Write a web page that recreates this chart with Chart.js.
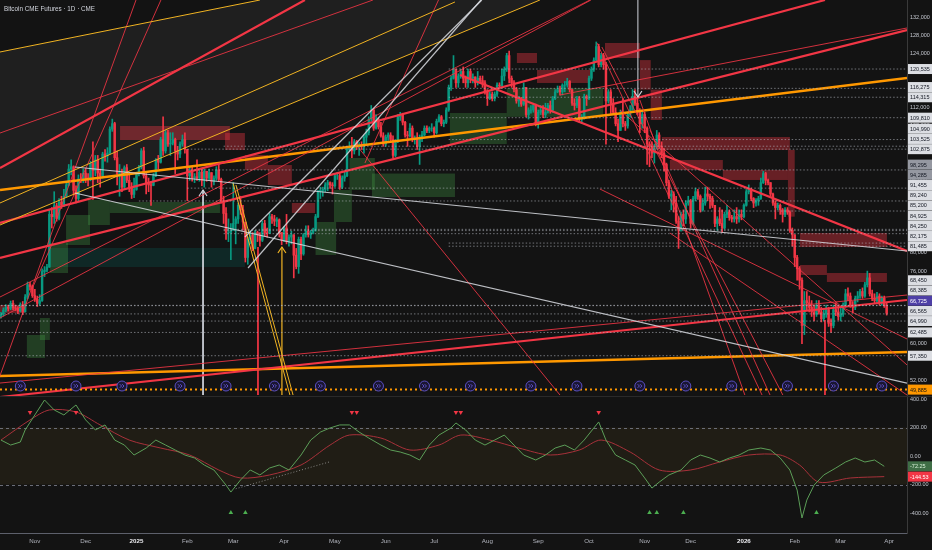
<!DOCTYPE html>
<html>
<head>
<meta charset="utf-8">
<script src="https://cdn.jsdelivr.net/npm/chart.js@4.4.1/dist/chart.umd.min.js"></script>
<style>
    body { margin: 0; background: #131313; width: 932px; height: 550px; overflow: hidden; position: relative; }
    .pane { position: absolute; left: 0; width: 932px; }
    #title { position: absolute; left: 4px; top: 5px; color: #d1d4dc; font: 6.3px 'Liberation Sans', sans-serif; }
</style>
</head>
<body>
<div class="pane" style="top:0;height:396px"><canvas id="priceChart"></canvas></div>
<div class="pane" style="top:396px;height:154px"><canvas id="oscChart"></canvas></div>
<div id="title">Bitcoin CME Futures · 1D · CME</div>
<script>
// month ticks (bar index of first session)
const monthLabels = ['Nov', 'Dec', '2025', 'Feb', 'Mar', 'Apr', 'May', 'Jun', 'Jul', 'Aug', 'Sep', 'Oct', 'Nov', 'Dec', '2026', 'Feb', 'Mar', 'Apr'];
const monthBars = [14, 35, 56, 77, 96, 117, 138, 159, 179, 201, 222, 243, 266, 285, 307, 328, 347, 367];
const priceTicks = [52000, 56000, 60000, 64000, 68000, 72000, 76000, 80000, 84000, 88000, 92000, 96000, 100000, 104000, 108000, 112000, 116000, 120000, 124000, 128000, 132000];
const oscTicks = [400, 200, 0, -200, -400];

// daily candles, thousands USD
const firstOpen = 66.0;
const closes = [
    66.5, 67.4, 68.0, 67.8, 68.9, 67.9, 67.8, 67.2, 68.6, 67.0, 70.3, 73.0, 72.6, 70.6,
    69.8, 68.9, 69.5, 75.9, 76.2, 76.9, 88.5, 88.0, 90.4, 87.6, 91.2, 90.6, 92.5, 95.0, 98.5, 99.0, 93.8, 92.0, 96.3, 96.0, 97.6,
    96.5, 96.3, 99.7, 98.2, 100.5, 97.6, 97.0, 101.8, 101.4, 102.0, 107.3, 108.5, 101.0, 97.5, 97.8, 94.5, 98.8, 96.0, 94.4, 92.9, 94.0,
    97.5, 98.9, 102.5, 97.0, 95.5, 95.0, 94.9, 97.0, 100.5, 100.0, 105.0, 102.5, 106.5, 104.0, 104.2, 105.0, 102.5, 101.8, 104.0, 105.0, 102.8,
    97.0, 98.0, 96.5, 96.8, 96.5, 97.8, 96.0, 98.0, 96.5, 97.7, 95.8, 96.5, 98.3, 96.2, 91.5, 88.7, 84.5, 84.5, 85.0,
    86.5, 87.5, 90.5, 89.5, 86.8, 79.0, 83.0, 84.0, 81.0, 84.5, 84.0, 82.8, 86.5, 84.5, 84.3, 88.0, 87.5, 87.0, 87.3, 84.5, 82.8,
    85.5, 82.5, 83.5, 84.0, 79.5, 77.0, 83.0, 79.8, 84.0, 84.8, 84.0, 84.5, 85.0, 88.0, 93.5, 93.8, 94.0, 95.0, 95.5, 95.0, 94.8,
    97.0, 97.0, 94.5, 96.5, 97.0, 103.0, 103.5, 102.5, 104.5, 103.5, 103.8, 103.5, 105.5, 106.5, 109.5, 111.5, 107.5, 109.0, 107.8, 105.8, 104.0,
    105.5, 106.0, 105.0, 101.5, 104.5, 110.0, 110.5, 108.8, 106.0, 105.8, 107.5, 105.0, 105.0, 103.5, 105.5, 106.0, 107.5, 107.0, 107.5, 107.5,
    106.5, 109.0, 110.0, 108.5, 108.8, 111.5, 116.5, 118.5, 120.5, 117.5, 119.0, 120.0, 118.5, 117.5, 120.0, 118.5, 118.8, 117.5, 118.5, 118.0, 117.5, 115.5,
    114.0, 115.0, 114.0, 115.0, 117.0, 116.8, 119.0, 120.5, 123.5, 118.5, 117.5, 116.0, 113.5, 114.0, 112.8, 116.5, 110.5, 111.5, 111.5, 112.5, 108.5,
    111.0, 111.5, 110.5, 111.0, 112.5, 111.5, 114.0, 115.5, 116.0, 115.5, 117.0, 117.0, 117.8, 116.0, 113.0, 112.5, 114.0, 109.5, 110.0, 114.5, 114.0,
    118.5, 120.5, 122.5, 125.5, 121.5, 123.5, 121.5, 113.5, 115.5, 113.0, 111.0, 108.5, 107.0, 110.5, 108.5, 108.0, 110.5, 111.5, 114.5, 113.0, 111.0, 108.5, 110.5,
    107.5, 104.0, 103.5, 102.0, 103.5, 106.0, 103.5, 102.0, 99.5, 95.5, 92.5, 93.0, 91.0, 87.0, 85.0, 88.5, 87.5, 91.0, 91.5,
    86.5, 92.0, 93.5, 92.5, 89.5, 91.0, 93.0, 92.5, 92.0, 90.5, 86.5, 87.5, 86.5, 85.5, 88.5, 89.0, 87.8, 87.5, 88.0, 87.5, 88.5, 88.0,
    90.5, 93.5, 94.0, 92.0, 91.0, 91.5, 92.0, 95.5, 97.5, 96.0, 95.5, 93.0, 91.0, 90.0, 90.5, 89.5, 88.5, 89.5, 89.0, 85.0, 84.0,
    79.0, 76.5, 74.0, 64.0, 69.5, 69.0, 68.0, 67.0, 66.5, 68.5, 67.0, 65.5, 66.5, 67.5, 64.5, 64.0, 67.5, 67.0, 66.0,
    66.5, 68.5, 71.0, 70.5, 68.5, 68.0, 70.0, 70.5, 71.5, 70.5, 73.0, 74.5, 71.0, 70.0, 69.5, 70.5, 69.0, 70.0, 68.5, 66.725
];
const highs = [
    66.9, 67.9, 68.6, 68.5, 69.4, 69.5, 68.5, 68.2, 69.0, 69.3, 70.8, 73.6, 73.5, 72.9,
    72.0, 70.5, 70.8, 76.5, 77.0, 77.5, 89.5, 90.0, 93.5, 91.0, 92.0, 92.5, 94.0, 95.8, 99.5, 100.5, 99.2, 94.8, 97.2, 97.5, 98.5,
    98.5, 97.5, 100.2, 104.5, 101.5, 101.5, 98.5, 102.2, 102.8, 103.2, 107.8, 109.5, 108.8, 102.5, 99.5, 98.5, 99.2, 99.5, 97.5, 95.5, 96.5,
    97.8, 99.3, 103.0, 103.3, 97.5, 96.5, 95.8, 97.5, 100.8, 101.5, 105.5, 110.0, 107.0, 107.0, 106.5, 106.5, 105.3, 103.5, 104.5, 106.0, 106.5,
    102.5, 99.0, 99.0, 97.5, 100.5, 98.5, 98.5, 98.5, 97.8, 98.5, 97.5, 97.0, 99.0, 99.5, 96.5, 92.5, 90.0, 87.5, 86.5,
    95.5, 88.0, 91.0, 92.5, 90.5, 86.0, 83.5, 84.8, 84.5, 85.0, 84.8, 84.5, 87.0, 87.2, 85.5, 88.7, 88.5, 88.3, 87.8, 87.5, 84.5,
    85.8, 88.5, 84.0, 84.8, 81.0, 81.0, 83.5, 83.5, 84.3, 86.0, 86.0, 85.0, 85.5, 88.5, 93.8, 94.5, 94.5, 95.5, 96.0, 95.7, 95.5,
    97.5, 97.8, 97.5, 97.0, 97.8, 103.5, 104.5, 105.5, 105.0, 104.8, 104.3, 104.5, 106.0, 107.3, 110.0, 112.5, 111.8, 110.5, 109.8, 108.8, 106.5,
    106.0, 106.5, 106.5, 105.8, 105.0, 110.5, 111.0, 110.8, 109.0, 106.8, 108.5, 108.0, 105.8, 106.5, 106.0, 106.8, 108.0, 108.0, 107.8, 108.5,
    107.8, 109.5, 110.5, 110.3, 109.3, 112.0, 117.0, 119.0, 123.5, 120.5, 119.5, 120.5, 121.0, 119.0, 120.5, 120.5, 119.5, 118.8, 120.0, 119.0, 119.0, 118.0,
    116.0, 115.5, 115.5, 115.5, 117.5, 117.5, 120.5, 121.0, 124.0, 124.5, 119.0, 118.0, 116.5, 114.5, 114.3, 117.5, 116.0, 112.0, 112.5, 113.0, 112.8,
    111.5, 112.5, 112.5, 113.0, 113.0, 113.5, 114.5, 116.0, 116.8, 116.8, 117.3, 117.8, 118.5, 118.0, 116.0, 114.0, 114.5, 114.5, 110.5, 115.0, 114.8,
    119.0, 121.0, 123.0, 126.5, 126.0, 124.0, 124.0, 122.0, 116.0, 116.0, 114.0, 112.0, 109.5, 111.5, 114.0, 109.0, 111.0, 112.5, 116.0, 116.0, 114.0, 111.8, 111.5,
    111.0, 107.8, 104.5, 104.5, 104.0, 107.0, 106.5, 104.5, 103.0, 99.8, 96.0, 93.8, 93.5, 92.5, 88.0, 89.0, 89.5, 91.5, 92.5,
    91.8, 92.5, 94.3, 94.0, 92.8, 92.0, 94.5, 94.5, 93.0, 92.5, 90.5, 88.0, 90.0, 89.5, 89.0, 90.5, 89.5, 88.3, 89.5, 90.0, 89.5, 89.5,
    90.8, 94.0, 95.0, 94.3, 92.2, 92.0, 92.5, 96.5, 98.0, 97.8, 96.3, 95.5, 93.2, 91.5, 91.0, 90.8, 89.8, 90.0, 90.0, 89.3, 85.5,
    84.0, 79.5, 77.0, 74.5, 71.5, 71.5, 70.5, 69.5, 68.5, 69.5, 69.5, 68.0, 67.8, 68.5, 68.0, 65.5, 68.5, 69.0, 68.3,
    67.8, 69.0, 72.0, 72.3, 71.2, 69.3, 70.5, 71.5, 72.0, 72.3, 73.5, 76.0, 75.5, 71.8, 71.0, 71.3, 71.0, 70.5, 70.5, 69.0
];
const lows = [
    65.6, 66.1, 67.0, 67.2, 67.5, 67.5, 67.3, 66.6, 67.0, 66.4, 67.0, 69.9, 71.8, 70.2,
    69.3, 68.2, 68.5, 69.3, 74.8, 75.8, 76.8, 85.5, 86.5, 87.0, 87.3, 89.8, 90.2, 92.3, 94.8, 97.2, 92.8, 91.0, 91.5, 95.5, 95.5,
    95.5, 94.8, 95.9, 91.8, 97.0, 95.5, 94.5, 96.5, 100.2, 100.0, 101.8, 106.8, 100.5, 95.0, 92.5, 93.5, 94.2, 95.5, 93.5, 92.0, 92.2,
    93.8, 97.0, 98.5, 96.5, 93.0, 93.5, 90.5, 94.8, 96.8, 98.5, 99.8, 101.5, 102.0, 103.5, 101.5, 103.8, 97.5, 100.5, 101.0, 103.5, 102.0,
    91.5, 96.0, 95.8, 95.5, 96.0, 95.8, 94.8, 94.5, 95.8, 96.0, 94.5, 95.0, 96.0, 95.8, 91.0, 86.5, 83.0, 82.5, 78.5,
    85.8, 82.0, 86.5, 88.5, 85.0, 78.0, 77.5, 82.0, 80.5, 80.9, 82.5, 81.5, 82.5, 83.7, 83.5, 85.0, 86.5, 86.0, 85.8, 83.5, 81.8,
    82.5, 82.0, 81.5, 82.0, 74.5, 76.5, 75.5, 78.5, 79.5, 83.5, 83.5, 83.2, 84.2, 84.8, 87.8, 92.0, 92.5, 93.5, 93.7, 94.2, 93.0,
    94.5, 96.2, 94.0, 94.2, 95.8, 96.8, 102.5, 101.0, 101.8, 102.8, 101.5, 102.8, 102.0, 104.0, 106.0, 109.0, 107.0, 107.3, 107.3, 105.5, 103.5,
    103.5, 104.8, 104.5, 101.0, 101.2, 104.3, 109.2, 108.2, 105.5, 103.5, 105.5, 104.5, 104.0, 102.8, 99.5, 104.5, 105.8, 106.5, 106.5, 106.8,
    105.5, 106.2, 108.8, 108.0, 107.8, 108.5, 111.2, 115.8, 118.3, 116.5, 116.5, 118.5, 117.5, 116.5, 116.5, 117.5, 117.5, 116.5, 117.0, 117.5, 116.5, 115.0,
    112.5, 113.8, 113.5, 113.5, 114.5, 116.3, 116.8, 118.0, 120.0, 117.5, 116.5, 115.5, 113.0, 112.3, 112.3, 112.5, 110.0, 109.5, 110.8, 111.0, 108.0,
    107.5, 110.5, 109.8, 109.8, 110.8, 110.8, 111.0, 113.8, 115.3, 114.8, 114.8, 115.5, 116.5, 115.5, 112.5, 111.5, 112.0, 108.8, 108.5, 109.5, 112.5,
    113.8, 118.0, 120.0, 122.3, 121.0, 121.0, 120.5, 104.0, 113.0, 110.5, 110.5, 108.0, 104.5, 107.5, 107.8, 107.0, 107.5, 110.0, 111.5, 112.5, 110.5, 106.5, 107.5,
    106.5, 99.5, 99.0, 101.0, 99.8, 103.0, 103.0, 101.0, 98.0, 94.8, 92.0, 89.5, 89.0, 86.5, 81.0, 84.8, 86.0, 86.5, 90.5,
    85.5, 86.2, 91.5, 91.8, 89.0, 89.2, 90.5, 91.5, 89.8, 90.0, 85.8, 85.0, 86.0, 84.5, 85.3, 87.8, 87.2, 86.8, 86.8, 86.5, 86.8, 87.3,
    87.7, 90.3, 93.0, 91.5, 90.0, 90.3, 90.5, 91.8, 95.3, 95.0, 95.0, 92.5, 90.5, 87.5, 89.5, 88.5, 86.8, 88.0, 88.5, 84.5, 81.5,
    77.0, 74.0, 72.0, 60.0, 62.0, 67.5, 67.0, 66.0, 65.0, 66.0, 66.5, 64.8, 65.0, 65.8, 63.8, 62.5, 63.5, 66.2, 65.2,
    65.0, 66.0, 68.0, 69.5, 68.0, 66.8, 67.5, 69.2, 70.0, 70.0, 70.2, 72.5, 70.5, 69.5, 68.8, 69.0, 68.5, 68.5, 68.0, 66.3
];

// horizontal levels drawn by the author (USD) and the bar where each one starts
const levelPrices = [120535, 116275, 114315, 109810, 104990, 103525, 102875, 98295, 94285, 91455, 89240, 85200, 84925, 84250, 82175, 81485, 68450, 68385, 66565, 64990, 62485, 57350];
const levelStartBars = [185, 185, 185, 185, 185, 92, 77, 77, 77, 57, 276, 92, 92, 92, 185, 185, 0, 0, 0, 0, 0, 0];
const greyTagLevels = [98295, 94285];
const lastPrice = 66725;
const alertPrice = 49885;

// trend lines: [bar1, price1, bar2, price2] in thousands
const thickOrangeLines = [[-0.4, 93.87, 374.4, 118.56], [-0.4, 52.88, 374.4, 58.17]];
const thinGoldLines = [
    [-0.4, 124.29, 107.0, 135.75], [-0.4, 91.01, 187.6, 135.31], [-0.4, 86.16, 222.7, 135.75],
    [95.9, 95.42, 119.4, 48.69], [97.1, 94.98, 120.7, 48.69]
];
const thickRedLines = [
    [-0.4, 98.72, 125.6, 135.75], [-0.4, 86.60, 340.5, 135.75], [-0.4, 78.89, 374.4, 129.13],
    [189.7, 119.22, 374.4, 80.43], [-0.4, 48.25, 374.4, 69.63]
];
const thinRedLines = [
    [-0.4, 106.43, 153.7, 135.75], [-3.3, 48.69, 55.8, 135.75], [13.2, 72.50, 66.1, 135.75],
    [-0.4, 70.29, 243.4, 135.75], [-0.4, 65.66, 243.8, 135.75], [-0.4, 51.33, 374.4, 70.73],
    [147.5, 103.35, 231.0, 48.69], [246.3, 126.27, 314.5, 48.69], [248.3, 125.39, 323.1, 48.69],
    [264.0, 113.71, 307.4, 48.69], [268.2, 107.10, 317.8, 48.69], [255.8, 111.50, 374.4, 55.31],
    [247.5, 94.09, 374.4, 61.04], [276.4, 84.40, 374.4, 48.69], [150.4, 99.82, 180.8, 135.75],
    [231.0, 114.81, 374.4, 129.58]
];
const whiteLines = [
    [30.6, 98.94, 374.4, 80.43], [30.6, 93.21, 374.4, 51.33],
    [102.1, 76.68, 198.3, 135.75], [100.8, 83.52, 198.7, 135.75]
];
// vertical markers: [bar, arrowPrice, tailPrice]
const whiteArrows = [[83.5, 93.87, 48.69], [263.2, 114.37, 135.75]];
const goldArrows = [[116.1, 81.31, 48.69]];
const redVerticals = [[106.2, 81.31, 48.69], [340.5, 65.22, 48.69]];

// shaded zones: [bar1, bar2, top, bottom] in thousands
const redZones = [
    [-0.4, 10, 68.53, 66.77], [49.2, 94.6, 107.98, 104.89], [92.6, 100.8, 106.43, 102.69],
    [100.8, 110.3, 101.59, 98.28], [110.3, 120.2, 99.38, 94.98], [120.2, 129.8, 91.01, 88.80],
    [213.2, 221.5, 124.07, 121.86], [221.5, 243.4, 120.32, 117.46], [249.6, 264.0, 126.27, 122.96],
    [264.0, 268.5, 122.5, 116.0], [268.5, 273.1, 116.0, 109.3], [273.1, 326.0, 105.55, 102.69],
    [276.4, 298.3, 100.48, 98.28], [298.3, 325.2, 98.28, 96.08], [325.2, 328.0, 102.7, 88.0],
    [330.2, 366.1, 84.40, 81.31], [330.2, 341.3, 77.34, 75.14], [341.3, 366.1, 75.58, 73.60]
];
const greenZones = [
    [10.7, 18.2, 61.92, 56.85], [16.1, 20.2, 65.66, 60.82], [20.2, 27.7, 82.19, 75.58],
    [26.9, 36.8, 88.36, 81.75], [36.0, 45.0, 91.67, 86.16], [45.0, 90.5, 91.23, 88.80],
    [130.0, 138.5, 86.82, 79.55], [137.6, 145.0, 93.87, 86.82], [144.0, 154.5, 100.93, 93.87],
    [153.3, 187.6, 97.5, 92.33], [185.5, 209.0, 110.84, 104.0], [209.0, 248.8, 116.35, 110.0]
];
const tealZones = [[20.2, 100.8, 81.09, 76.90]];
const greyChannels = [[[-0.4, 124.29], [107.0, 135.75], [222.7, 135.75], [-0.4, 86.16]]];

// contract expiries shown as event icons
const expiryBars = [8, 31, 50, 74, 93, 113, 132, 156, 175, 194, 219, 238, 264, 283, 302, 325, 344, 364];

// oscillator pane
const cciBars = [0, 4, 8, 10, 14, 18, 22, 26, 31, 35, 39, 43, 47, 51, 55, 60, 64, 68, 72, 76, 80, 84, 88, 93, 95, 99, 103, 107, 111, 115, 119, 124, 128, 132, 136, 140, 144, 148, 152, 157, 161, 165, 169, 173, 177, 181, 186, 188, 192, 196, 200, 204, 208, 212, 216, 221, 225, 229, 233, 237, 241, 247, 250, 254, 258, 262, 266, 269, 272, 276, 281, 285, 289, 293, 297, 301, 305, 309, 314, 318, 322, 326, 329, 331, 333, 336, 340, 345, 349, 353, 357, 361, 365];
const cciVals = [112, 77, 98, 183, 288, 393, 323, 288, 358, 253, 183, 218, 112, 77, 7, 56, 112, 77, 42, 7, -14, -63, -98, -204, -253, -168, -98, -133, -84, -63, -98, 7, 112, 168, 197, 218, 218, 168, 126, 77, 42, 28, 7, -28, 77, 147, 197, 232, 183, 112, 77, 112, 147, 77, 7, -28, 7, 56, 77, 42, 112, 239, 112, 7, -28, -63, -154, -225, -183, -133, -98, -28, 7, -14, -42, -14, 7, 42, 56, 42, -14, -98, -239, -435, -309, -204, -133, -84, -42, -14, -42, -28, -72.25];
const signalBars = [0, 12, 20, 31, 41, 53, 66, 78, 90, 99, 111, 124, 136, 144, 157, 169, 181, 190, 202, 214, 227, 239, 248, 260, 272, 285, 297, 309, 322, 330, 338, 351, 365];
const signalVals = [112, 253, 323, 309, 218, 112, 56, 7, -98, -154, -133, -63, 77, 147, 126, 42, 77, 147, 112, 56, 7, 42, 112, 28, -98, -98, -42, 7, 7, -63, -183, -154, -144.53];
// dotted trend drawn inside the oscillator pane: [bar1, value1, bar2, value2]
const oscTrend = [97, -230, 136, -40];
const sellSignalBars = [12, 31, 145, 147, 188, 190, 247];
const buySignalBars = [95, 101, 268, 271, 282, 337];

const fontFamily = "'Liberation Sans', 'DejaVu Sans', sans-serif";
const tagFont = '5.5px ' + fontFamily;
const axisFont = { family: fontFamily, size: 5.5 };
const upColor = '#089981';
const downColor = '#f23645';

function segment(seg, color, width, dash) {
    return {
        type: 'line',
        data: [{ x: seg[0], y: seg[1] }, { x: seg[2], y: seg[3] }],
        borderColor: color, borderWidth: width, borderDash: dash || [],
        pointRadius: 0, fill: false, tension: 0, order: 1
    };
}

function buildCandles() {
    const opens = closes.map((c, i) => i === 0 ? firstOpen : closes[i - 1]);
    const colors = closes.map((c, i) => c >= opens[i] ? upColor : downColor);
    const wicks = closes.map((c, i) => ({
        x: i, y: [Math.min(lows[i], opens[i], c), Math.max(highs[i], opens[i], c)]
    }));
    const bodies = closes.map((c, i) => ({ x: i, y: [Math.min(opens[i], c), Math.max(opens[i], c)] }));
    return [
        { type: 'bar', data: wicks, backgroundColor: colors, barThickness: 1, grouped: false, order: 10 },
        { type: 'bar', data: bodies, backgroundColor: colors, barThickness: 1.8, grouped: false, order: 9 }
    ];
}

function buildOverlays() {
    let sets = [];
    levelPrices.forEach((p, i) => {
        sets.push(segment([levelStartBars[i], p / 1000, 374.4, p / 1000], 'rgba(178,181,190,0.6)', 1, [1.5, 2]));
    });
    sets.push(segment([-0.4, alertPrice / 1000, 374.4, alertPrice / 1000], '#ff9800', 2, [2, 3]));
    whiteLines.forEach(s => sets.push(segment(s, 'rgba(220,222,228,0.85)', 1.2)));
    thinGoldLines.forEach(s => sets.push(segment(s, '#f0b323', 1)));
    thinRedLines.forEach(s => sets.push(segment(s, 'rgba(242,54,69,0.85)', 1)));
    thickRedLines.forEach(s => sets.push(segment(s, '#f23645', 2.2)));
    thickOrangeLines.forEach(s => sets.push(segment(s, '#ff9800', 2.6)));
    whiteArrows.forEach(v => sets.push(segment([v[0], v[1], v[0], v[2]], '#d1d4dc', 1)));
    goldArrows.forEach(v => sets.push(segment([v[0], v[1], v[0], v[2]], '#f0b323', 1.2)));
    redVerticals.forEach(v => sets.push(segment([v[0], v[1], v[0], v[2]], '#f23645', 1)));
    return sets;
}

function toPx(chart, bar, price) {
    return [chart.scales.x.getPixelForValue(bar), chart.scales.y.getPixelForValue(price)];
}

const backdropPlugin = {
    id: 'backdrop',
    beforeDatasetsDraw(chart) {
        const { ctx, chartArea: a } = chart;
        ctx.save();
        ctx.beginPath();
        ctx.rect(a.left, a.top, a.right - a.left, a.bottom - a.top);
        ctx.clip();
        greyChannels.forEach(poly => {
            ctx.beginPath();
            poly.forEach((pt, i) => {
                const [x, y] = toPx(chart, pt[0], pt[1]);
                if (i === 0) ctx.moveTo(x, y); else ctx.lineTo(x, y);
            });
            ctx.closePath();
            ctx.fillStyle = 'rgba(255,255,255,0.05)';
            ctx.fill();
        });
        const paint = (zones, color) => zones.forEach(z => {
            const [x1, y1] = toPx(chart, z[0], z[2]);
            const [x2, y2] = toPx(chart, z[1], z[3]);
            ctx.fillStyle = color;
            ctx.fillRect(x1, y1, x2 - x1, y2 - y1);
        });
        paint(tealZones, 'rgba(0,150,136,0.17)');
        paint(greenZones, 'rgba(76,175,80,0.28)');
        paint(redZones, 'rgba(242,54,69,0.38)');
        ctx.restore();
    }
};

function arrowHead(ctx, x, y, up, color) {
    const d = up ? 1 : -1;
    ctx.strokeStyle = color;
    ctx.lineWidth = 1.2;
    ctx.beginPath();
    ctx.moveTo(x - 4, y + 6 * d);
    ctx.lineTo(x, y);
    ctx.lineTo(x + 4, y + 6 * d);
    ctx.stroke();
}

const markerPlugin = {
    id: 'markers',
    afterDatasetsDraw(chart) {
        const { ctx, chartArea: a } = chart;
        ctx.save();
        whiteArrows.concat(goldArrows).forEach((v, i) => {
            const [x, y] = toPx(chart, v[0], v[1]);
            arrowHead(ctx, x, y, v[1] > v[2], i < whiteArrows.length ? '#d1d4dc' : '#f0b323');
        });
        expiryBars.forEach(b => {
            const x = chart.scales.x.getPixelForValue(b);
            const y = a.bottom - 10;
            ctx.beginPath();
            ctx.arc(x, y, 5, 0, Math.PI * 2);
            ctx.fillStyle = '#1a1633';
            ctx.fill();
            ctx.strokeStyle = '#5b4fc4';
            ctx.lineWidth = 1;
            ctx.stroke();
            ctx.beginPath();
            ctx.moveTo(x - 2.2, y - 1.8); ctx.lineTo(x - 0.4, y); ctx.lineTo(x - 2.2, y + 1.8);
            ctx.moveTo(x + 0.2, y - 1.8); ctx.lineTo(x + 2, y); ctx.lineTo(x + 0.2, y + 1.8);
            ctx.stroke();
        });
        ctx.restore();
    }
};

function drawTag(ctx, x, y, text, bg, fg) {
    ctx.fillStyle = bg;
    ctx.fillRect(x, y - 5, 24, 10);
    ctx.fillStyle = fg;
    ctx.font = tagFont;
    ctx.textAlign = 'left';
    ctx.textBaseline = 'middle';
    ctx.fillText(text, x + 2, y + 0.5);
}

const priceTagPlugin = {
    id: 'priceTags',
    afterDraw(chart) {
        const { ctx, chartArea: a } = chart;
        const y = chart.scales.y;
        let tags = levelPrices.map(p => ({ p, bg: greyTagLevels.includes(p) ? '#9598a1' : '#dcdee3', fg: '#131722' }));
        tags.push({ p: lastPrice, bg: '#4e3fa6', fg: '#ffffff' });
        tags.push({ p: alertPrice, bg: '#ff9800', fg: '#131313' });
        tags.forEach(t => t.y = y.getPixelForValue(t.p / 1000));
        tags.sort((m, n) => n.y - m.y);
        for (let i = 1; i < tags.length; i++) {
            tags[i].y = Math.min(tags[i].y, tags[i - 1].y - 10.2);
        }
        ctx.save();
        tags.forEach(t => drawTag(ctx, a.right + 1, t.y, t.p.toLocaleString('en-US'), t.bg, t.fg));
        ctx.restore();
    }
};

function fixAxis(width) {
    return function (scale) {
        if (width) scale.width = width;
        scale.paddingTop = 0;
        scale.paddingBottom = 0;
        scale.paddingLeft = 0;
        scale.paddingRight = 0;
    };
}

function priceChartSetup() {
    const ctx = document.getElementById('priceChart').getContext('2d');
    new Chart(ctx, {
        type: 'bar',
        data: { datasets: buildCandles().concat(buildOverlays()) },
        options: {
            responsive: true, maintainAspectRatio: false, animation: false, devicePixelRatio: 1,
            layout: { padding: 0 },
            plugins: { legend: { display: false }, tooltip: { enabled: false } },
            scales: {
                x: { type: 'linear', min: -0.4, max: 374.4, offset: false, display: false },
                y: {
                    type: 'linear', position: 'right', min: 48.474, max: 135.747,
                    grid: { display: false, drawTicks: false },
                    border: { display: true, color: '#3a3a3a' },
                    afterBuildTicks: s => { s.ticks = priceTicks.map(v => ({ value: v / 1000 })); },
                    afterFit: fixAxis(25),
                    ticks: {
                        color: '#c4c7cf', font: axisFont, padding: 3,
                        callback: v => levelPrices.concat([lastPrice, alertPrice]).some(p => Math.abs(p - v * 1000) < 1400) ? '' : Math.round(v * 1000).toLocaleString('en-US')
                    }
                }
            }
        },
        plugins: [backdropPlugin, markerPlugin, priceTagPlugin]
    });
}

function isYearLabel(c) {
    return !!(c && c.tick && /^20/.test(monthLabels[monthBars.indexOf(c.tick.value)] || ''));
}

const oscPlugin = {
    id: 'oscDecor',
    beforeDatasetsDraw(chart) {
        const { ctx, chartArea: a } = chart;
        const y = chart.scales.y;
        const top = y.getPixelForValue(200), bottom = y.getPixelForValue(-200);
        ctx.save();
        ctx.fillStyle = 'rgba(130,105,45,0.12)';
        ctx.fillRect(a.left, top, a.right - a.left, bottom - top);
        ctx.strokeStyle = '#6a6d78';
        ctx.lineWidth = 1;
        ctx.setLineDash([3, 3]);
        [top, bottom].forEach(py => {
            ctx.beginPath();
            ctx.moveTo(a.left, Math.round(py) + 0.5);
            ctx.lineTo(a.right, Math.round(py) + 0.5);
            ctx.stroke();
        });
        ctx.setLineDash([]);
        ctx.strokeStyle = '#2a2a2a';
        ctx.beginPath();
        ctx.moveTo(0, 0.5);
        ctx.lineTo(chart.width, 0.5);
        ctx.stroke();
        ctx.restore();
    },
    afterDraw(chart) {
        const { ctx, chartArea: a } = chart;
        const x = chart.scales.x, y = chart.scales.y;
        ctx.save();
        ctx.fillStyle = '#f23645';
        sellSignalBars.forEach(b => {
            const px = x.getPixelForValue(b), py = a.top + 17;
            ctx.beginPath();
            ctx.moveTo(px - 2.3, py - 2); ctx.lineTo(px + 2.3, py - 2); ctx.lineTo(px, py + 2); ctx.closePath();
            ctx.fill();
        });
        ctx.fillStyle = '#4caf50';
        buySignalBars.forEach(b => {
            const px = x.getPixelForValue(b), py = a.bottom - 21;
            ctx.beginPath();
            ctx.moveTo(px - 2.3, py + 2); ctx.lineTo(px + 2.3, py + 2); ctx.lineTo(px, py - 2); ctx.closePath();
            ctx.fill();
        });
        const cciLast = cciVals[cciVals.length - 1], sigLast = signalVals[signalVals.length - 1];
        drawTag(ctx, a.right + 1, y.getPixelForValue(cciLast), cciLast.toFixed(2), '#3f6e46', '#d8f0d8');
        drawTag(ctx, a.right + 1, y.getPixelForValue(sigLast), sigLast.toFixed(2), '#f23645', '#ffffff');
        ctx.restore();
    }
};

function oscChartSetup() {
    const ctx = document.getElementById('oscChart').getContext('2d');
    new Chart(ctx, {
        type: 'line',
        data: {
            datasets: [
                { data: cciBars.map((b, i) => ({ x: b, y: cciVals[i] })), borderColor: '#5c9e58', borderWidth: 1, pointRadius: 0, tension: 0 },
                { data: signalBars.map((b, i) => ({ x: b, y: signalVals[i] })), borderColor: '#a8313a', borderWidth: 1, pointRadius: 0, tension: 0.3 },
                { data: [{ x: oscTrend[0], y: oscTrend[1] }, { x: oscTrend[2], y: oscTrend[3] }], borderColor: 'rgba(200,200,200,0.6)', borderWidth: 1, borderDash: [1, 2], pointRadius: 0 }
            ]
        },
        options: {
            responsive: true, maintainAspectRatio: false, animation: false, devicePixelRatio: 1,
            layout: { padding: 0 },
            plugins: { legend: { display: false }, tooltip: { enabled: false } },
            scales: {
                x: {
                    type: 'linear', min: -0.4, max: 374.4, offset: false,
                    grid: { display: false, drawTicks: false },
                    border: { display: true, color: '#5d606b' },
                    afterBuildTicks: s => { s.ticks = monthBars.map(v => ({ value: v })); },
                    afterFit: s => { s.height = 17; fixAxis()(s); },
                    ticks: {
                        autoSkip: false, maxRotation: 0, padding: 5,
                        color: c => isYearLabel(c) ? '#eeeef2' : '#b2b5be',
                        font: c => ({ family: fontFamily, size: 6.2, weight: isYearLabel(c) ? 'bold' : 'normal' }),
                        callback: v => monthLabels[monthBars.indexOf(v)]
                    }
                },
                y: {
                    type: 'linear', position: 'right', min: -540, max: 421,
                    grid: { display: false, drawTicks: false },
                    border: { display: true, color: '#3a3a3a' },
                    afterBuildTicks: s => { s.ticks = oscTicks.map(v => ({ value: v })); },
                    afterFit: fixAxis(25),
                    ticks: { color: '#c4c7cf', font: axisFont, padding: 3, callback: v => v.toFixed(2) }
                }
            }
        },
        plugins: [oscPlugin]
    });
}

window.onload = () => {
    priceChartSetup();
    oscChartSetup();
};
</script>
</body>
</html>
